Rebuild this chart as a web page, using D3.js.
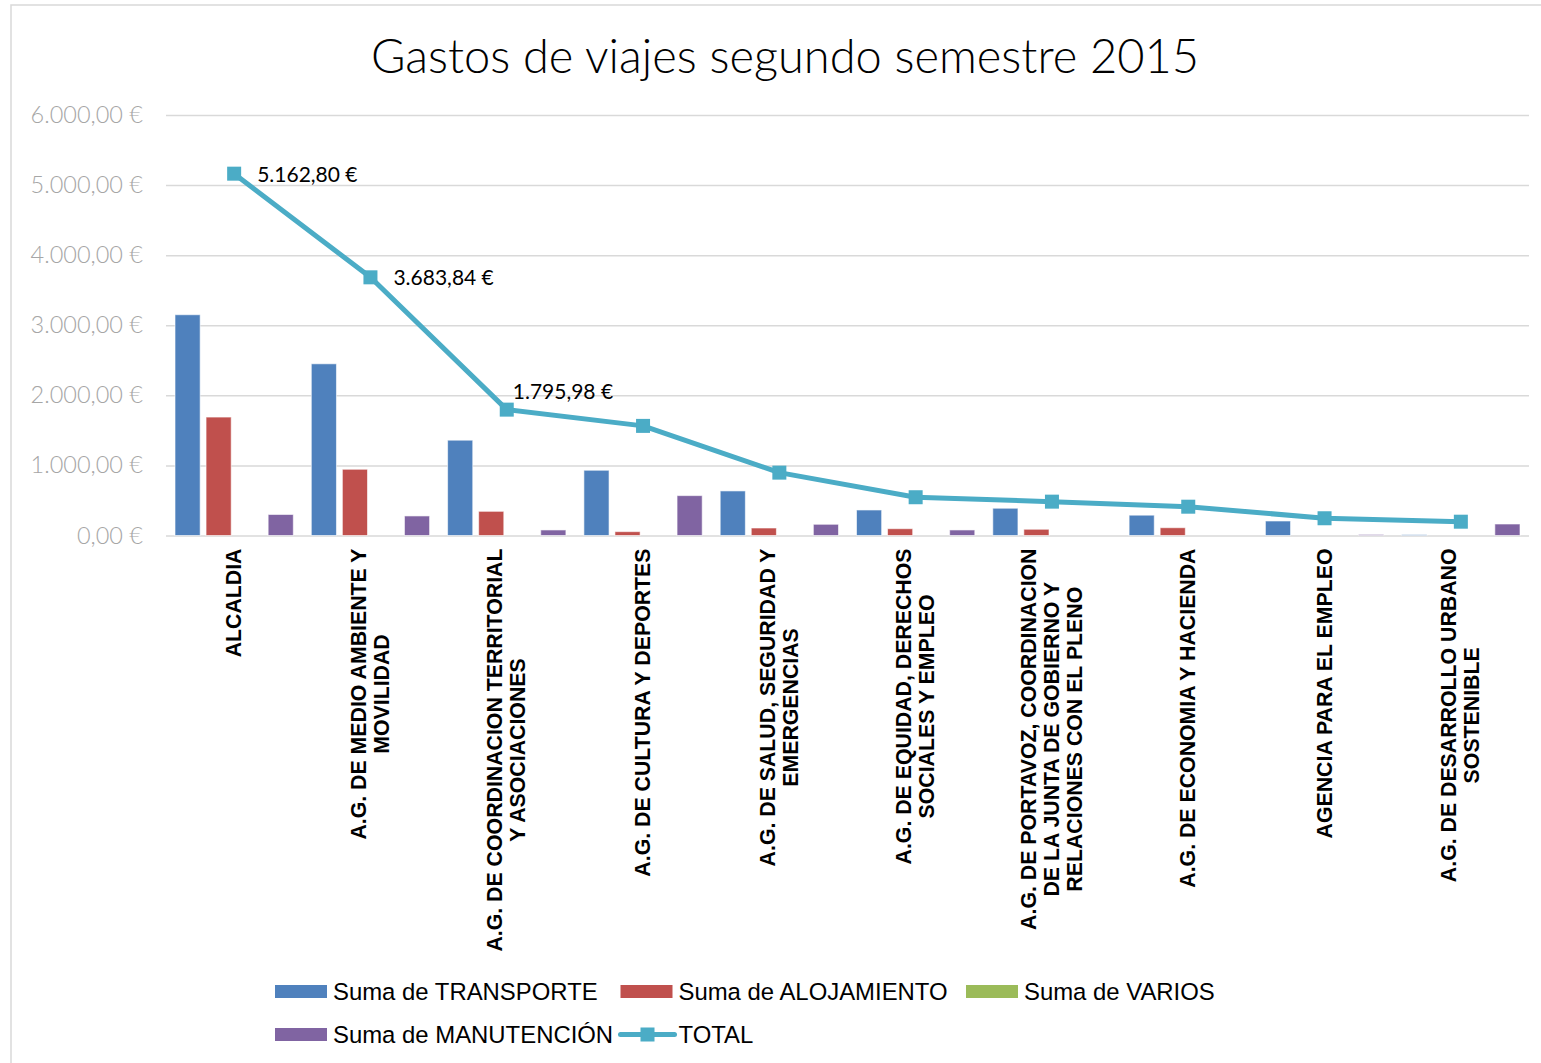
<!DOCTYPE html>
<html>
<head>
<meta charset="utf-8">
<script src="https://cdn.jsdelivr.net/npm/d3@7"></script>
<style>
  body { margin: 0; background: #fff; }
  svg { display: block; }
</style>
</head>
<body>
<div id="container"></div>
<script>
// data
let categories = [
  "ALCALDIA",
  "A.G. DE MEDIO AMBIENTE Y MOVILIDAD",
  "A.G. DE COORDINACION TERRITORIAL Y ASOCIACIONES",
  "A.G. DE CULTURA Y DEPORTES",
  "A.G. DE SALUD, SEGURIDAD Y EMERGENCIAS",
  "A.G. DE EQUIDAD, DERECHOS SOCIALES Y EMPLEO",
  "A.G. DE PORTAVOZ, COORDINACION DE LA JUNTA DE GOBIERNO Y RELACIONES CON EL PLENO",
  "A.G. DE ECONOMIA Y HACIENDA",
  "AGENCIA PARA EL EMPLEO",
  "A.G. DE DESARROLLO URBANO SOSTENIBLE"
];
// how each tick label is broken into lines
let tickLines = [
  ["ALCALDIA"],
  ["A.G. DE MEDIO AMBIENTE Y", "MOVILIDAD"],
  ["A.G. DE COORDINACION TERRITORIAL", "Y ASOCIACIONES"],
  ["A.G. DE CULTURA Y DEPORTES"],
  ["A.G. DE SALUD, SEGURIDAD Y", "EMERGENCIAS"],
  ["A.G. DE EQUIDAD, DERECHOS", "SOCIALES Y EMPLEO"],
  ["A.G. DE PORTAVOZ, COORDINACION", "DE LA JUNTA DE GOBIERNO Y", "RELACIONES CON EL PLENO"],
  ["A.G. DE ECONOMIA Y HACIENDA"],
  ["AGENCIA PARA EL EMPLEO"],
  ["A.G. DE DESARROLLO URBANO", "SOSTENIBLE"]
];
let transporte  = [3150, 2450, 1360, 931, 636, 364, 389, 290, 207, 12];
let alojamiento = [1690, 945, 345, 55, 107, 97, 89, 111, 0, 0];
let varios      = [0, 0, 0, 0, 0, 0, 0, 0, 0, 0];
let manutencion = [300, 279, 79, 569, 160, 79, 0, 0, 15, 164];
let total       = [5162.80, 3683.84, 1795.98, 1564, 897, 546, 483, 411, 246, 197];
let labelledTotals = 3; // only the first three points carry a label
let yTicks = [0, 1000, 2000, 3000, 4000, 5000, 6000];

let seriesNames = ["Suma de TRANSPORTE", "Suma de ALOJAMIENTO", "Suma de VARIOS", "Suma de MANUTENCIÓN"];
let seriesValues = [transporte, alojamiento, varios, manutencion];
let seriesColors = ["#4f81bd", "#c0504d", "#9bbb59", "#8064a2"];
let totalName = "TOTAL";
let totalColor = "#4bacc6";

// global sizes
let w = 1541;
let h = 1063;
let plotLeft = 166, plotRight = 1529, plotTop = 115, plotBottom = 535.5;

let es = d3.formatLocale({decimal: ",", thousands: ".", grouping: [3], currency: ["", " €"]});
let euro = es.format("$,.2f");

let viz = d3.select("#container")
  .append("svg")
    .attr("width", w)
    .attr("height", h)
;

// chart frame
viz.append("rect")
  .attr("x", 11).attr("y", 5)
  .attr("width", w + 20).attr("height", h + 20)
  .attr("fill", "#fff")
  .attr("stroke", "#d9d9d9")
  .attr("stroke-width", 1.5);

// title
viz.append("text")
  .attr("x", 785).attr("y", 73)
  .attr("text-anchor", "middle")
  .attr("font-family", "Lato")
  .attr("font-weight", 300)
  .attr("font-size", 47)
  .attr("fill", "#000")
  .text("Gastos de viajes segundo semestre 2015");

// scales
let xScale = d3.scaleBand().domain(categories).range([plotLeft, plotRight]).padding(0);
let xInner = d3.scaleBand()
  .domain(seriesNames)
  .range([9, xScale.bandwidth() - 9])
  .paddingInner(0.19)
  .paddingOuter(0);
let yScale = d3.scaleLinear().domain([0, 6000]).range([plotBottom, plotTop]);

// y axis with gridlines
let yAxis = d3.axisLeft(yScale)
  .tickValues(yTicks)
  .tickSize(-(plotRight - plotLeft))
  .tickPadding(23)
  .tickFormat(euro);
let yAxisGroup = viz.append("g")
  .attr("transform", "translate(" + plotLeft + ",0)")
  .call(yAxis);
yAxisGroup.select(".domain").remove();
yAxisGroup.selectAll("line").attr("stroke", "#d9d9d9").attr("stroke-width", 1.5);
yAxisGroup.selectAll("text")
  .attr("font-family", "Lato")
  .attr("font-weight", 300)
  .attr("font-size", 23.5)
  .attr("fill", "#a6a6a6");

// bars
let graphGroup = viz.append("g").classed("graphGroup", true);
let groups = graphGroup.selectAll(".datapoint").data(categories).enter()
  .append("g")
    .classed("datapoint", true)
    .attr("transform", function(d){ return "translate(" + xScale(d) + ",0)"; });
groups.selectAll("rect")
  .data(function(d, i){
    return seriesNames.map(function(s, j){ return {name: s, value: seriesValues[j][i], color: seriesColors[j]}; });
  })
  .enter()
  .append("rect")
    .attr("x", function(d){ return xInner(d.name); })
    .attr("width", xInner.bandwidth())
    .attr("y", function(d){ return yScale(d.value); })
    .attr("height", function(d){ return plotBottom - yScale(d.value); })
    .attr("fill", function(d){ return d.color; })
    .attr("stroke", "rgba(255,255,255,0.6)")
    .attr("stroke-width", function(d){ return d.value > 0 ? 1 : 0; });

// x axis (labels only)
let xAxis = d3.axisBottom(xScale).tickSize(0).tickFormat("");
let xAxisGroup = viz.append("g")
  .attr("transform", "translate(0," + plotBottom + ")")
  .call(xAxis);
xAxisGroup.select(".domain").remove();
xAxisGroup.selectAll(".tick").each(function(d, i){
  let lines = tickLines[i];
  let lh = 23;
  let g = d3.select(this).append("g").attr("transform", "translate(0,13) rotate(-90)");
  let texts = g.selectAll("text").data(lines).enter()
    .append("text")
      .attr("font-family", "Arial, 'Liberation Sans', sans-serif")
      .attr("font-weight", "bold")
      .attr("font-size", 21.3)
      .attr("fill", "#000")
      .attr("text-anchor", "middle")
      .attr("dominant-baseline", "central")
      .attr("y", function(l, k){ return (k - (lines.length - 1) / 2) * lh; })
      .text(function(l){ return l; });
  let maxW = 0;
  texts.each(function(){ maxW = Math.max(maxW, this.getComputedTextLength()); });
  texts.attr("x", -maxW / 2);
});

// total line
let cx = function(i){ return xScale(categories[i]) + xScale.bandwidth() / 2; };
let line = d3.line()
  .x(function(d, i){ return cx(i); })
  .y(function(d){ return yScale(d); });
let lineGroup = viz.append("g");
lineGroup.append("path")
  .datum(total)
  .attr("d", line)
  .attr("fill", "none")
  .attr("stroke", totalColor)
  .attr("stroke-width", 5)
  .attr("stroke-linejoin", "round")
  .attr("stroke-linecap", "round");
lineGroup.selectAll(".marker").data(total).enter()
  .append("rect")
    .classed("marker", true)
    .attr("x", function(d, i){ return cx(i) - 7; })
    .attr("y", function(d){ return yScale(d) - 7; })
    .attr("width", 14).attr("height", 14)
    .attr("fill", totalColor);
// the first two labels sit to the right of their point, the third one above it
lineGroup.selectAll(".dlabel").data(total.slice(0, labelledTotals)).enter()
  .append("text")
    .classed("dlabel", true)
    .attr("x", function(d, i){ return cx(i) + (i < 2 ? 23 : 6); })
    .attr("y", function(d, i){ return yScale(d) + (i < 2 ? 8 : -11); })
    .attr("font-family", "Lato")
    .attr("font-size", 21)
    .attr("fill", "#000")
    .text(function(d){ return euro(d); });

// legend
let legendItems = seriesNames.map(function(s, j){ return {name: s, color: seriesColors[j], type: "bar"}; });
legendItems.push({name: totalName, color: totalColor, type: "line"});
let legend = viz.append("g").classed("legend", true);
let items = legend.selectAll("g").data(legendItems).enter()
  .append("g")
    .attr("transform", function(d, i){
      return "translate(" + (275 + (i % 3) * 345.5) + "," + (991.5 + Math.floor(i / 3) * 43) + ")";
    });
items.filter(function(d){ return d.type == "bar"; })
  .append("rect")
    .attr("x", 0).attr("y", -6.5)
    .attr("width", 52).attr("height", 13)
    .attr("fill", function(d){ return d.color; });
let lineItems = items.filter(function(d){ return d.type == "line"; });
lineItems.append("line")
  .attr("x1", 0).attr("x2", 54).attr("y1", 0).attr("y2", 0)
  .attr("stroke", function(d){ return d.color; })
  .attr("stroke-width", 5)
  .attr("stroke-linecap", "round");
lineItems.append("rect")
  .attr("x", 20).attr("y", -7).attr("width", 14).attr("height", 14)
  .attr("fill", function(d){ return d.color; });
items.append("text")
  .attr("x", 58)
  .attr("y", 0)
  .attr("dominant-baseline", "central")
  .attr("font-family", "Arial, 'Liberation Sans', sans-serif")
  .attr("font-size", 23.9)
  .attr("fill", "#000")
  .text(function(d){ return d.name; });
</script>
</body>
</html>
